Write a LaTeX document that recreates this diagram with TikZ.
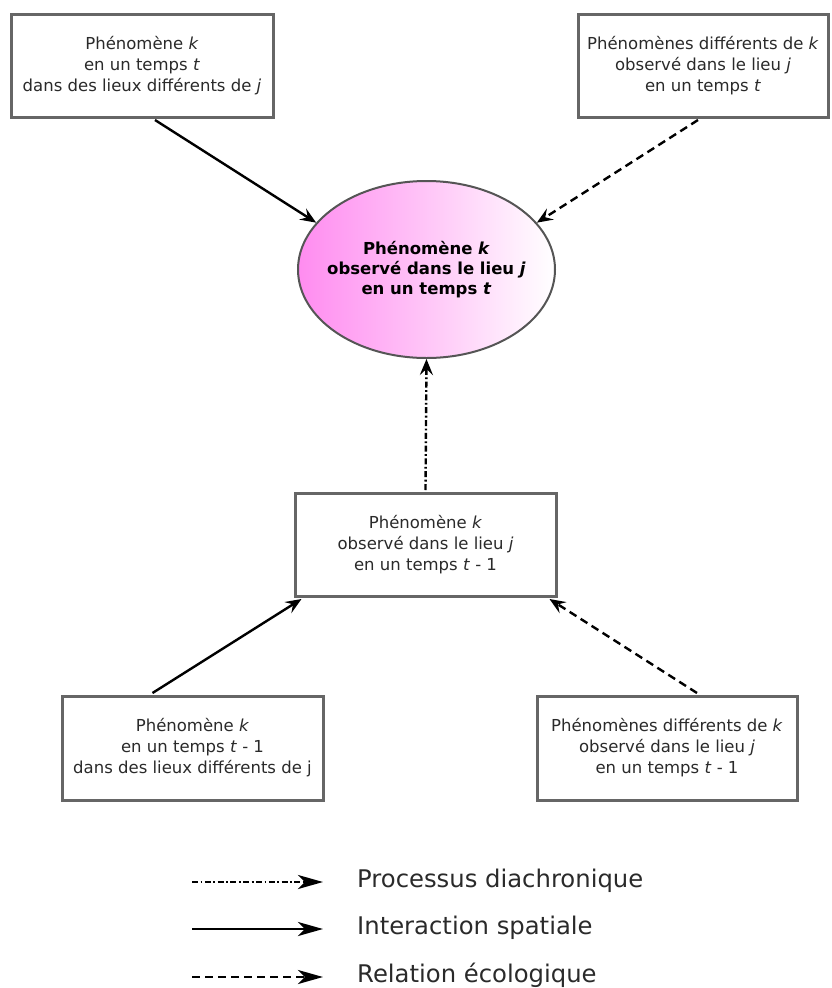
\documentclass[tikz,border=0pt]{standalone}
\usepackage{fontspec}
\setmainfont{DejaVu Sans}
\usetikzlibrary{arrows.meta,shapes.geometric}
\definecolor{boxgray}{HTML}{666666}
\definecolor{txtgray}{HTML}{2A2A2A}
\definecolor{pinkL}{RGB}{255,140,240}
\tikzset{
  box/.style={draw=boxgray, line width=3pt, fill=white, minimum width=#1, minimum height=103pt,
    inner sep=0pt, align=center, text=txtgray, font=\fontsize{16.5}{21}\selectfont},
  conn/.style={line width=2.4pt, -{Stealth[length=16pt,width=13pt,inset=6pt]}},
  legline/.style={line width=2.8pt, -{Stealth[length=25pt,width=14pt,inset=7pt]}},
  dashconn/.style={dash pattern=on 8pt off 5pt},
  diaconn/.style={dash pattern=on 6pt off 2.5pt on 1.8pt off 2.5pt},
  legtext/.style={anchor=base west, inner sep=0pt, text=txtgray, font=\fontsize{24.3}{28}\selectfont}
}
\begin{document}
\begin{tikzpicture}[x=1pt,y=1pt]
\useasboundingbox (0,0) rectangle (831,-988);
% nodes
\node[box=262pt] (tl) at (142,-65.5) {Phénomène \textit{k}\\en un temps \textit{t}\\dans des lieux différents de \textit{j}};
\node[box=250pt] (tr) at (703,-65.5) {Phénomènes différents de \textit{k}\\observé dans le lieu \textit{j}\\en un temps \textit{t}};
\node[ellipse, draw={rgb,255:red,85;green,85;blue,85}, line width=2pt, minimum width=257pt, minimum height=177pt,
  inner xsep=-40pt, inner ysep=0pt, left color=pinkL, right color=white, align=center,
  font=\bfseries\fontsize{16.5}{20}\selectfont] (ell) at (426.5,-269.5)
  {Phénomène \textit{k}\\observé dans le lieu \textit{j}\\en un temps \textit{t}};
\node[box=261pt] (mid) at (425.5,-544.5) {Phénomène \textit{k}\\observé dans le lieu \textit{j}\\en un temps \textit{t} - 1};
\node[box=261pt, minimum height=104pt] (bl) at (192.5,-748) {Phénomène \textit{k}\\en un temps \textit{t} - 1\\dans des lieux différents de j};
\node[box=260pt, minimum height=104pt] (br) at (667,-748) {Phénomènes différents de \textit{k}\\observé dans le lieu \textit{j}\\en un temps \textit{t} - 1};
% connectors
\draw[conn] ([xshift=13pt,yshift=-1.5pt]tl.south) -- (ell.157);
\draw[conn,dashconn] ([xshift=-5pt,yshift=-1.5pt]tr.south) -- (ell.23);
\draw[conn,diaconn] ([yshift=1.5pt]mid.north) -- (ell.south);
\draw[conn] ([xshift=-40pt,yshift=1.5pt]bl.north) -- ([xshift=8pt,yshift=-1.5pt]mid.south west);
\draw[conn,dashconn] ([xshift=30pt,yshift=1.5pt]br.north) -- ([xshift=-8pt,yshift=-1.5pt]mid.south east);
% legend
\coordinate (la1) at (192,-882); \coordinate (lb1) at (323,-882);
\coordinate (la2) at (192,-929); \coordinate (lb2) at (323,-929);
\coordinate (la3) at (192,-977); \coordinate (lb3) at (323,-977);
\draw[legline,diaconn] (la1) -- (lb1);
\draw[legline] (la2) -- (lb2);
\draw[legline,dashconn] (la3) -- (lb3);
\node[legtext] (t1) at (357,-887) {Processus diachronique};
\node[legtext] (t2) at (357,-934) {Interaction spatiale};
\node[legtext] (t3) at (357,-982) {Relation écologique};
\end{tikzpicture}
\end{document}
